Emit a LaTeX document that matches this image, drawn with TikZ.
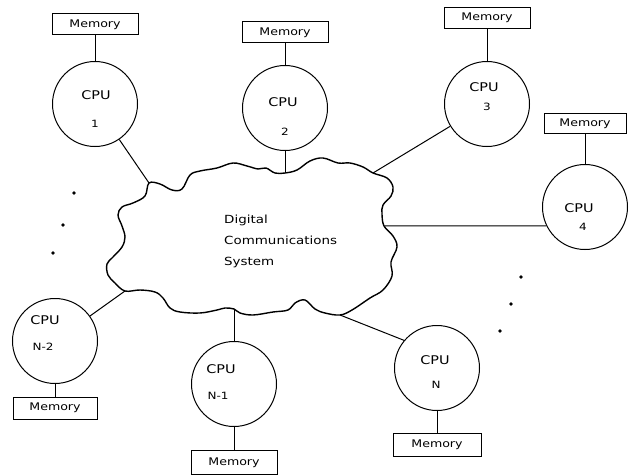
\documentclass[tikz,border=0pt]{standalone}
\usepackage{fontspec}
\setmainfont{DejaVu Sans}[FakeStretch=1.2]
\begin{document}
\begin{tikzpicture}[x=1pt,y=-1pt,
  cpu/.style={circle,draw,line width=1pt,minimum size=85pt,inner sep=0pt},
  mem/.style={rectangle,draw,line width=1pt,minimum width=86pt,minimum height=21pt,inner sep=0pt,font=\fontsize{10.5}{12}\selectfont},
  lbl/.style={inner sep=0pt,font=\fontsize{12}{14}\selectfont},
  num/.style={inner sep=0pt,font=\fontsize{10}{11}\selectfont},
  link/.style={line width=1pt},
  cloudline/.style={line width=1.4pt,line join=round},
  dot/.style={circle,fill,inner sep=0pt,minimum size=3.8pt}]
\useasboundingbox (0,0) rectangle (629,476);
% cloud
\draw[cloudline] plot[smooth cycle,tension=0.6] coordinates {
(149,183) (160,184) (172,190) (182,189) (190,175) (200,171) (217,168) (233,163)
(247,166) (258,169) (266,168) (275,173) (285,173) (297,170) (310,161) (323,158)
(338,163) (350,163) (363,167) (373,173) (387,178) (393,187) (391,196) (383,205)
(382,214) (384,226) (393,236) (397,247) (391,262) (392,276) (383,290) (370,298)
(352,310) (340,315) (325,313) (315,309) (305,300) (295,303) (288,310) (273,312)
(253,315) (240,313) (234,309) (225,308) (217,310) (200,313) (180,312) (170,308)
(163,298) (155,292) (140,290) (125,291) (115,283) (108,275) (107,264) (113,257)
(122,247) (125,237) (122,226) (118,215) (122,207) (133,203) (145,196)};
\coordinate (J1) at (149,183);
\coordinate (J2) at (285,173);
\coordinate (J3) at (373,173);
\coordinate (J4) at (384,226);
\coordinate (JN) at (340,315);
\coordinate (JN1) at (234,309);
\coordinate (JN2) at (125,291);
\node[inner sep=0pt,align=left,anchor=west,font=\fontsize{11.2}{21}\selectfont] (cloudtext) at (224,241) {Digital\\Communications\\System};
% CPUs
\node[cpu] (cpu1) at (95,104) {};
\node[cpu] (cpu2) at (285,108) {};
\node[cpu] (cpu3) at (487,104) {};
\node[cpu] (cpu4) at (585,207) {};
\node[cpu] (cpuN) at (437,368) {};
\node[cpu] (cpuN1) at (234,384) {};
\node[cpu] (cpuN2) at (55,341) {};
% labels
\node[lbl] (t1) at (96,95) {CPU};   \node[num] (n1) at (95,124) {1};
\node[lbl] (t2) at (283,102) {CPU}; \node[num] (n2) at (285,132) {2};
\node[lbl] (t3) at (484,87) {CPU};  \node[num] (n3) at (487,107) {3};
\node[lbl] (t4) at (579,208) {CPU}; \node[num] (n4) at (583,227) {4};
\node[lbl] (tN) at (435,360) {CPU}; \node[num] (nN) at (436,385) {N};
\node[lbl] (tN1) at (221,369) {CPU}; \node[num] (nN1) at (218,396) {N-1};
\node[lbl] (tN2) at (45,320) {CPU}; \node[num] (nN2) at (43,347) {N-2};
% memories
\node[mem] (m1) at (95,24.5) {Memory};
\node[mem] (m2) at (285,32.5) {Memory};
\node[mem] (m3) at (487,18) {Memory};
\node[mem,minimum width=82pt,minimum height=20pt] (m4) at (585,124) {Memory};
\node[mem,minimum width=88pt,minimum height=23pt] (mN) at (437,444.5) {Memory};
\node[mem,minimum height=24pt] (mN1) at (234,462.5) {Memory};
\node[mem,minimum width=84pt,minimum height=22pt] (mN2) at (55,408) {Memory};
% memory links
\draw[link] (m1) -- (cpu1);
\draw[link] (m2) -- (cpu2);
\draw[link] (m3) -- (cpu3);
\draw[link] (m4) -- (cpu4);
\draw[link] (cpuN) -- (mN);
\draw[link] (cpuN1) -- (mN1);
\draw[link] (cpuN2) -- (mN2);
% network links
\draw[link] (cpu1) -- (J1);
\draw[link] (cpu2) -- (J2);
\draw[link] (cpu3) -- (J3);
\draw[link] (J4) -- (cpu4.206);
\draw[link] (JN) -- (cpuN.140);
\draw[link] (cpuN1) -- (JN1);
\draw[link] (cpuN2) -- (JN2);
% dots
\node[dot] (d1) at (74,193) {};
\node[dot] (d2) at (63,225) {};
\node[dot] (d3) at (53,253) {};
\node[dot] (d4) at (521,277) {};
\node[dot] (d5) at (511,304) {};
\node[dot] (d6) at (500,331) {};
\end{tikzpicture}
\end{document}
